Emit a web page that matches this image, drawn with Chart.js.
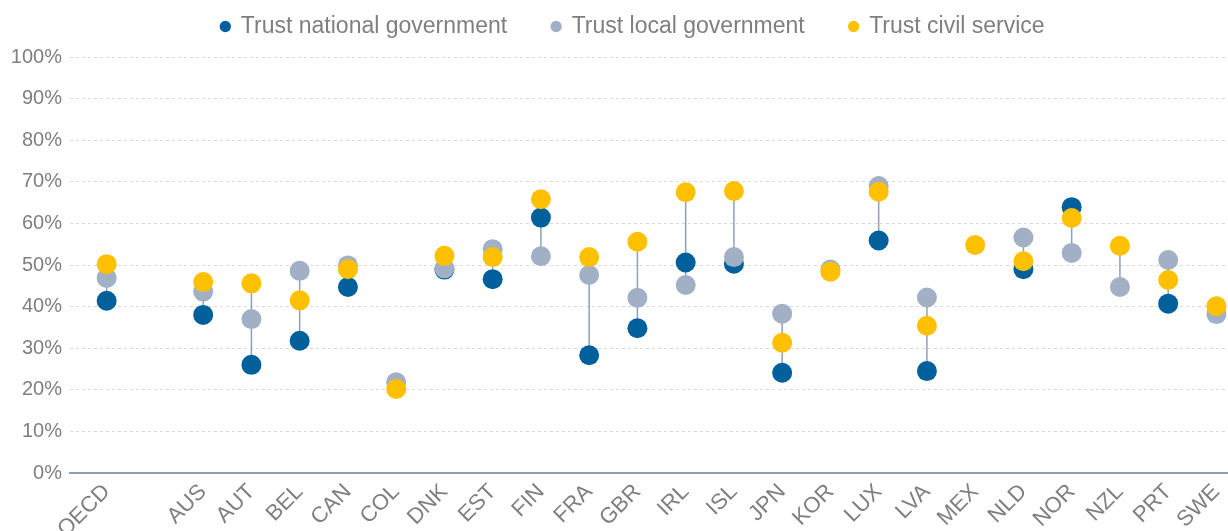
<!DOCTYPE html>
<html>
<head>
<meta charset="utf-8">
<script src="https://cdn.jsdelivr.net/npm/chart.js@4/dist/chart.umd.min.js"></script>
<style>
  html, body { margin: 0; padding: 0; background: #fff; }
  #wrap { width: 1228px; height: 531px; position: relative; }
</style>
</head>
<body>
<div id="wrap"><canvas id="trustChart"></canvas></div>
<script>
// categories (empty slot keeps the gap after OECD)
const categories = ['OECD', '', 'AUS', 'AUT', 'BEL', 'CAN', 'COL', 'DNK', 'EST', 'FIN', 'FRA', 'GBR',
	'IRL', 'ISL', 'JPN', 'KOR', 'LUX', 'LVA', 'MEX', 'NLD', 'NOR', 'NZL', 'PRT', 'SWE']

const trustNational = [41.4, null, 38.0, 26.0, 31.8, 44.7, null, 48.9, 46.6, 61.4, 28.3, 34.8,
	50.6, 50.3, 24.1, null, 55.9, 24.5, null, 49.0, 63.9, null, 40.7, null]
const trustLocal = [46.9, null, 43.6, 37.0, 48.6, 49.9, 21.8, 49.2, 53.8, 52.1, 47.6, 42.1,
	45.2, 51.9, 38.3, 48.9, 69.0, 42.2, null, 56.6, 52.9, 44.7, 51.2, 38.2]
const trustCivil = [50.2, null, 45.9, 45.6, 41.5, 49.0, 20.2, 52.2, 51.9, 65.8, 51.9, 55.6,
	67.5, 67.8, 31.3, 48.4, 67.6, 35.4, 54.8, 50.9, 61.3, 54.6, 46.4, 40.1]

const yTicks = [0, 10, 20, 30, 40, 50, 60, 70, 80, 90, 100]

const BLUE = '#00609c'
const GREY = '#a2b0c6'
const GOLD = '#ffc000'
const TEXT = '#7f7f7f'
const FONT = 'Liberation Sans, Arial, sans-serif'

function toPoints(values) {
	return values.map((v, i) => ({ x: i, y: v }))
}

// min-max range line for each country
function rangeSegments() {
	const pts = []
	categories.forEach((c, i) => {
		const vals = [trustNational[i], trustLocal[i], trustCivil[i]].filter((v) => v !== null)
		if (vals.length < 2) return
		pts.push({ x: i, y: Math.min(...vals) }, { x: i, y: Math.max(...vals) }, { x: i, y: null })
	})
	return pts
}

// legend sits a bit higher and right of the default spot
const legendNudge = {
	id: 'legendNudge',
	afterLayout(chart) {
		const l = chart.legend
		l.top -= 9
		l.bottom -= 9
		l.left += 19
		l.right += 19
	}
}

// extra space after the first two legend entries
const legendGap = { 1: '     ', 2: '     ' }

const dotStyle = { pointRadius: 10, pointHoverRadius: 10, borderWidth: 0, showLine: false }

new Chart(document.getElementById('trustChart'), {
	type: 'scatter',
	data: {
		datasets: [
			{
				label: 'range',
				data: rangeSegments(),
				showLine: true,
				spanGaps: false,
				borderColor: '#8fa1b8',
				borderWidth: 1.5,
				pointRadius: 0,
				order: 4
			},
			{ label: 'Trust national government', data: toPoints(trustNational), backgroundColor: BLUE, borderColor: BLUE, ...dotStyle, order: 3 },
			{ label: 'Trust local government', data: toPoints(trustLocal), backgroundColor: GREY, borderColor: GREY, ...dotStyle, order: 2 },
			{ label: 'Trust civil service', data: toPoints(trustCivil), backgroundColor: GOLD, borderColor: GOLD, ...dotStyle, order: 1 }
		]
	},
	plugins: [legendNudge],
	options: {
		responsive: true,
		maintainAspectRatio: false,
		animation: false,
		events: [],
		layout: { autoPadding: false, padding: 0 },
		plugins: {
			tooltip: { enabled: false },
			legend: {
				position: 'top',
				labels: {
					usePointStyle: true,
					pointStyle: 'circle',
					boxWidth: 8,
					boxHeight: 8,
					padding: 13,
					color: TEXT,
					font: { family: FONT, size: 23 },
					filter: (item) => item.datasetIndex > 0,
					sort: (a, b) => a.datasetIndex - b.datasetIndex,
					generateLabels: (chart) => {
						const items = Chart.defaults.plugins.legend.labels.generateLabels(chart)
						items.forEach((it) => {
							it.text += legendGap[it.datasetIndex] || ''
						})
						return items
					}
				}
			}
		},
		scales: {
			x: {
				type: 'linear',
				min: -0.76,
				max: 23.24,
				afterBuildTicks: (scale) => {
					scale.ticks = categories.map((c, i) => ({ value: i }))
				},
				afterFit: (scale) => {
					scale.height = 58
					scale.paddingLeft = 0
					scale.paddingRight = 0
				},
				grid: { drawOnChartArea: false, drawTicks: false },
				border: { display: true, color: '#8ea0b9', width: 2 },
				ticks: {
					autoSkip: false,
					minRotation: 45,
					maxRotation: 45,
					padding: 6,
					labelOffset: 0,
					color: TEXT,
					font: { family: FONT, size: 22 },
					callback: (v) => categories[v] ?? ''
				}
			},
			y: {
				min: 0,
				max: 100,
				afterBuildTicks: (scale) => {
					scale.ticks = yTicks.map((v) => ({ value: v }))
				},
				afterFit: (scale) => {
					scale.width = 70
					scale.paddingTop = 57
				},
				grid: {
					drawTicks: false,
					color: (ctx) => (ctx.tick && ctx.tick.value === 0 ? 'rgba(0,0,0,0)' : '#d9d9d9'),
					lineWidth: 1
				},
				border: { display: false, dash: [3, 3] },
				ticks: {
					padding: 8,
					color: TEXT,
					font: { family: FONT, size: 20 },
					callback: (v) => v + '%'
				}
			}
		}
	}
})
</script>
</body>
</html>
